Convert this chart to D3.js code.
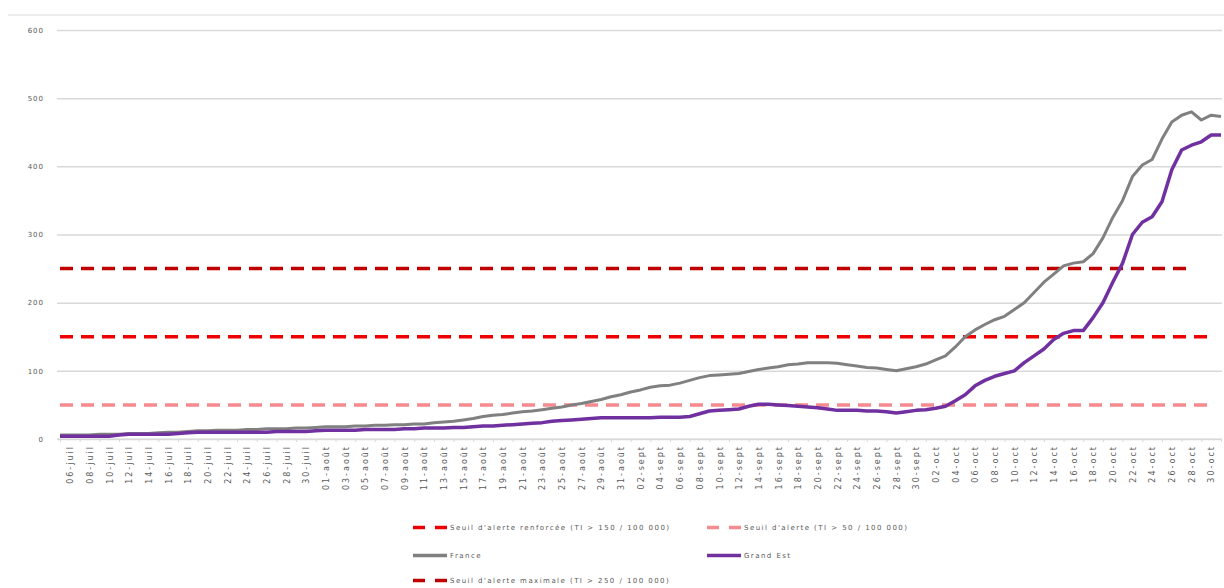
<!DOCTYPE html>
<html>
<head>
<meta charset="utf-8">
<script src="https://cdn.jsdelivr.net/npm/d3@7"></script>
<style>
  body { margin: 0; background: #fff; }
  text { font-family: "DejaVu Sans", sans-serif; fill: #595959; }
</style>
</head>
<body>
<svg id="plot" width="1224" height="588"></svg>
<script>
// categories: one per day, 05-juil -> 31-oct
let months = [["juil", 5, 31], ["août", 1, 31], ["sept", 1, 30], ["oct", 1, 31]]
let dates = []
months.forEach(m => { for (let d = m[1]; d <= m[2]; d++) dates.push(String(d).padStart(2, "0") + "-" + m[0]) })

// taux d'incidence
let france = [6,6,6,6,7,7,7, 8,8,8,9,10,10,11,12, 12,13,13,13,14,14,15,15,15,16,
  16,17,18,18,18,19,19,20, 20,21,21,22,22,24, 25,26,28,30,33,35, 36,38,40,41,43,45,
  47,50,52,55,58,62, 65,69,72,76,78,79, 82,86,90,93,94,95, 96,99,102,104,106,109,
  110,112,112,112,111,109, 107,105,104,102,100,103,106, 110,116,122,135,150,160,168,
  175,180,190,200,215,230, 242,254,258,260,272,295, 325,350,385,402,410,440,
  465,475,480,468,475,473]
let grandEst = [4,4,4,4,4,4,6, 7,7,7,7,7,8,9,10, 10,10,10,10,10,10,10,11,11,11,
  11,12,13,13,13,13,14,14, 14,14,15,15,16,16, 16,17,17,18,19,19, 20,21,22,23,24,26,
  27,28,29,30,31,31, 31,31,31,31,32,32, 32,33,37,41,42,43, 44,48,51,51,50,49,
  48,47,46,44,42,42, 42,41,41,40,38,40,42, 43,45,48,56,65,78,86,
  92,96,100,112,122,132, 146,155,159,159,178,200, 230,258,300,318,326,348,
  395,424,431,436,446,446]

let seuils = [
  {name: "Seuil d'alerte renforcée (TI > 150 / 100 000)", value: 150, last: "30-oct", color: "#ee0000"},
  {name: "Seuil d'alerte (TI > 50 / 100 000)", value: 50, last: "30-oct", color: "#f58a8f"},
  {name: "Seuil d'alerte maximale (TI > 250 / 100 000)", value: 250, last: "28-oct", color: "#c00000"}
]
let yTicks = [0, 100, 200, 300, 400, 500, 600]

let svg = d3.select("#plot")
let plotLeft = 57, plotRight = 1222, plotTop = 30, plotBottom = 439

let x = d3.scalePoint(dates, [60, 1221])
let y = d3.scaleLinear([0, 600], [plotBottom, plotTop])

// cadre
svg.append("line").attr("x1", 8).attr("x2", 1224).attr("y1", 15).attr("y2", 15)
  .attr("stroke", "#d9d9d9").attr("stroke-width", 1)

// grille + axe y
let gy = svg.append("g").attr("transform", `translate(${plotLeft},0)`)
  .call(d3.axisLeft(y).tickValues(yTicks).tickSize(-(plotRight - plotLeft)).tickPadding(13))
gy.select(".domain").remove()
gy.selectAll(".tick line").attr("stroke", "#d9d9d9").attr("stroke-width", 1.5)
gy.selectAll(".tick text").attr("font-size", 7).attr("letter-spacing", 1).style("fill", "#595959")

// axe x
let gx = svg.append("g").attr("transform", `translate(0,${plotBottom})`)
  .call(d3.axisBottom(x).tickValues(dates.filter((d, i) => i % 2 == 0)).tickSize(3).tickFormat(""))
gx.select(".domain").attr("stroke", "#d9d9d9").attr("d", `M${plotLeft},0H${plotRight}`)
gx.selectAll(".tick line").attr("stroke", "#d9d9d9")

let gl = svg.append("g").attr("transform", `translate(0,${plotBottom})`)
  .call(d3.axisBottom(x).tickValues(dates.filter((d, i) => i % 2 == 1)).tickSize(0))
gl.select(".domain").remove()
gl.selectAll(".tick text")
  .attr("transform", "translate(0,6) rotate(-90)")
  .attr("text-anchor", "end").attr("x", 0).attr("y", 0).attr("dy", "0.35em")
  .attr("font-size", 8).attr("letter-spacing", 2).style("fill", "#595959")

// seuils
let line = d3.line().x(d => x(d[0])).y(d => y(d[1]))
seuils.forEach(s => {
  let pts = dates.slice(0, dates.indexOf(s.last) + 1).map(d => [d, s.value])
  svg.append("path").attr("d", line(pts)).attr("fill", "none")
    .attr("stroke", s.color).attr("stroke-width", 3.5).attr("stroke-dasharray", "13 8")
})

// séries
let series = [
  {name: "France", values: france, color: "#808080", width: 3},
  {name: "Grand Est", values: grandEst, color: "#7030a0", width: 3.5}
]
series.forEach(s => {
  svg.append("path").attr("d", line(s.values.map((v, i) => [dates[i], v])))
    .attr("fill", "none").attr("stroke", s.color).attr("stroke-width", s.width)
    .attr("stroke-linejoin", "round")
})

// légende
let legend = [
  {item: seuils[0], col: 0, row: 0, dash: true},
  {item: seuils[1], col: 1, row: 0, dash: true},
  {item: series[0], col: 0, row: 1, dash: false},
  {item: series[1], col: 1, row: 1, dash: false},
  {item: seuils[2], col: 0, row: 2, dash: true}
]
let rowsY = [527.5, 555.5, 580.5], colsX = [413, 707]
legend.forEach(l => {
  let g = svg.append("g").attr("transform", `translate(${colsX[l.col]},${rowsY[l.row]})`)
  g.append("line").attr("x1", 0).attr("x2", 34).attr("y1", 0).attr("y2", 0)
    .attr("stroke", l.item.color).attr("stroke-width", 3.5)
    .attr("stroke-dasharray", l.dash ? "12 10" : null)
  g.append("text").attr("x", 37).attr("dy", "0.35em").attr("font-size", 7)
    .attr("letter-spacing", 1.45).text(l.item.name)
})
</script>
</body>
</html>
